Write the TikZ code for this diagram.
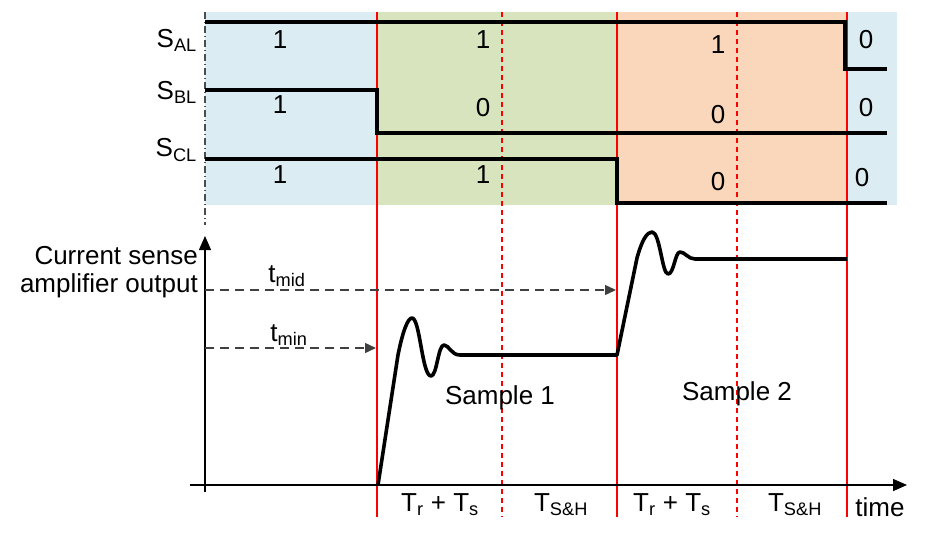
\documentclass[tikz,border=0pt]{standalone}
\usepackage{fontspec}
\setmainfont{Liberation Sans}
\usetikzlibrary{arrows.meta}
\definecolor{bbl}{RGB}{219,236,243}
\definecolor{bgr}{RGB}{215,228,189}
\definecolor{bor}{RGB}{250,214,186}
\begin{document}
\begin{tikzpicture}[x=1pt,y=-1pt,
  sig/.style={line width=3.2pt},
  red1/.style={draw=red,line width=1.2pt},
  red2/.style={draw=red,line width=1.2pt,dash pattern=on 5pt off 4pt},
  lbl/.style={font=\fontsize{26}{28}\selectfont,inner sep=0pt},
  dar/.style={dash pattern=on 9pt off 6pt,line width=1.4pt,black!75,-{Triangle[length=11pt,width=10pt]}}]
\useasboundingbox (0,0) rectangle (940,533);
\fill[bbl] (205,12) rectangle (377,205);
\fill[bgr] (377,12) rectangle (617,205);
\fill[bor] (617,12) rectangle (847,205);
\fill[bbl] (847,12) rectangle (897,205);
\draw[black!70,line width=1.2pt,dash pattern=on 7pt off 3pt on 1pt off 3pt] (205,12) -- (205,225);
\foreach \x in {377,617,847} \draw[red1] (\x,12) -- (\x,517);
\foreach \x in {502,737} \draw[red2] (\x,12) -- (\x,517);
% signals
\draw[sig] (205,22) -- (845,22) -- (845,69) -- (887,69);
\draw[sig] (205,90) -- (377,90) -- (377,133) -- (887,133);
\draw[sig] (205,159) -- (617,159) -- (617,203) -- (887,203);
\node[lbl,anchor=east] (sal) at (197,40) {S\textsubscript{AL}};
\node[lbl,anchor=east] (sbl) at (197,92) {S\textsubscript{BL}};
\node[lbl,anchor=east] (scl) at (197,150) {S\textsubscript{CL}};
\foreach \x/\y/\t [count=\i] in {280/40/1,483/40/1,718/45/1,866/40/0,
  280/105/1,483/108/0,718/115/0,866/108/0,
  280/175/1,483/175/1,718/182/0,862/178/0}
  \node[lbl] (v\i) at (\x,\y) {\t};
% axes
\coordinate (o) at (205,485);
\coordinate (xe) at (907,485);
\coordinate (ye) at (205,236);
\draw[line width=1.4pt,-{Triangle[length=14pt,width=12pt]}] (190,485) -- (xe);
\draw[line width=1.4pt,-{Triangle[length=14pt,width=12pt]}] (205,492) -- (ye);
\node[lbl,anchor=east] (cs1) at (198,256) {Current sense};
\node[lbl,anchor=east] (cs2) at (198,286) {amplifier output};
\node[lbl] (tmid) at (287,276) {t\textsubscript{mid}};
\node[lbl] (tmin) at (289,335) {t\textsubscript{min}};
\coordinate (a1) at (205,290); \coordinate (b1) at (616,290);
\coordinate (a2) at (205,348); \coordinate (b2) at (376,348);
\draw[dar] (a1) -- (b1);
\draw[dar] (a2) -- (b2);
% curves
\draw[line width=3.6pt,line join=round] (378,485) -- (398,355)
  .. controls (403,330) and (408,318) .. (412,318)
  .. controls (420,318) and (422,376) .. (431,376)
  .. controls (437,376) and (438,345) .. (444,345)
  .. controls (449,345) and (451,355) .. (460,355) -- (617,355)
  -- (637,258)
  .. controls (642,240) and (647,232) .. (652,232)
  .. controls (660,232) and (662,274) .. (668,274)
  .. controls (674,274) and (675,252) .. (680,252)
  .. controls (685,252) and (688,259) .. (695,259) -- (847,259);
\node[lbl] (s1) at (500,398) {Sample 1};
\node[lbl] (s2) at (737,394) {Sample 2};
\node[lbl] (t1) at (440,505) {T\textsubscript{r} + T\textsubscript{s}};
\node[lbl] (t2) at (561,505) {T\textsubscript{S\&H}};
\node[lbl] (t3) at (672,505) {T\textsubscript{r} + T\textsubscript{s}};
\node[lbl] (t4) at (795,505) {T\textsubscript{S\&H}};
\node[lbl] (tm) at (880,507) {time};
\end{tikzpicture}
\end{document}
